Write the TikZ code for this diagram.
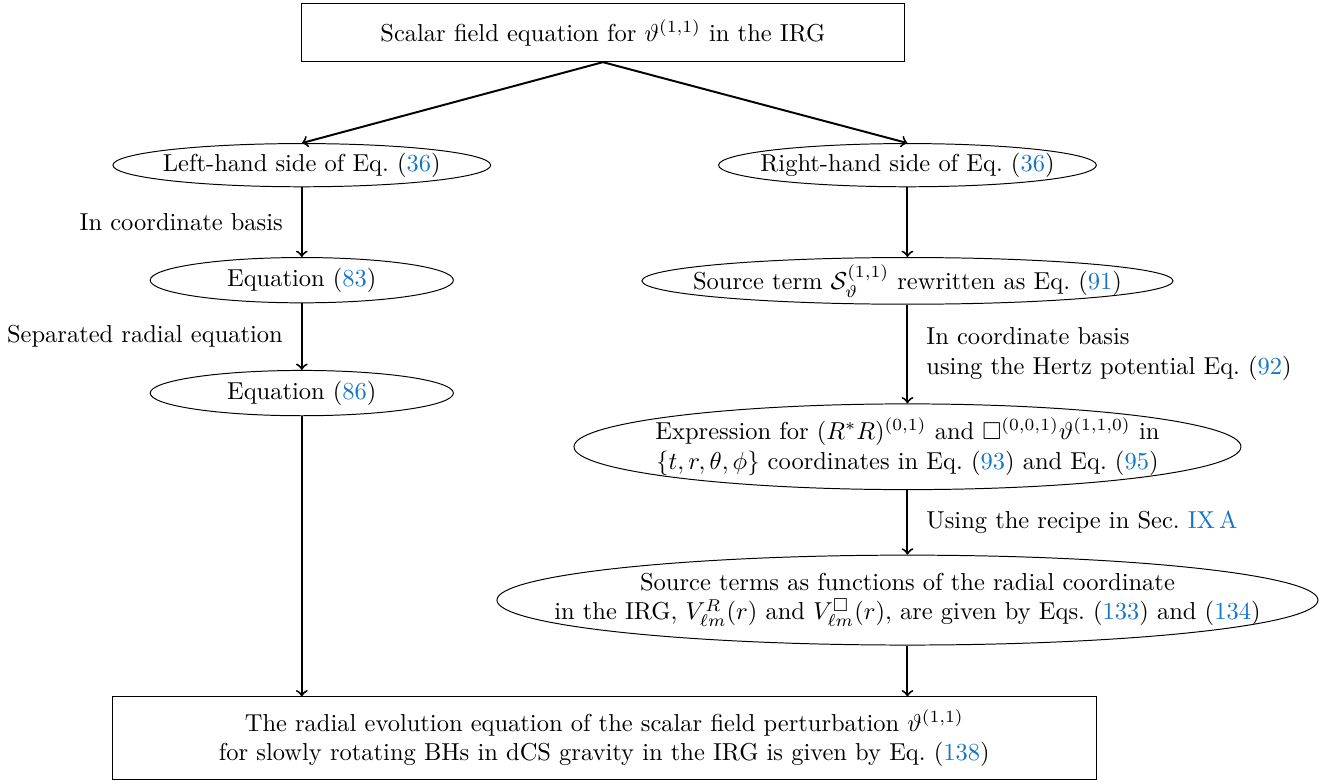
\documentclass[tikz,border=0pt]{standalone}
\usepackage{amsmath}
\usepackage{amssymb}
\usepackage{tikz}
\usetikzlibrary{arrows, calc, shapes.geometric}
\definecolor{linkblue}{RGB}{20,118,200}
\newcommand{\eqlink}[1]{(\textcolor{linkblue}{#1})}
\tikzset{flow box/.style={draw, rectangle, align=center, inner sep=2pt}}
\tikzset{flow oval/.style={draw, ellipse, align=center, inner xsep=-28pt, inner ysep=0pt}}
\tikzset{flow arrow/.style={->, thick}}

\begin{document}
\begin{tikzpicture}[auto]
                    \useasboundingbox (0,0) rectangle (19.24,-11.24);
                    %\draw[help lines] (0,0) grid (19,-11);

                    \node[flow box, minimum width=8.65cm, minimum height=0.83cm] at (8.65,-0.47) (field){Scalar field equation for $\vartheta^{(1,1)}$ in the IRG};

                    \node[flow oval, minimum width=5.42cm, minimum height=0.62cm] at (4.33,-2.37) (lhs){Left-hand side of Eq.~\eqlink{36}};
                    \node[flow oval, minimum width=5.42cm, minimum height=0.62cm] at (13.02,-2.37) (rhs){Right-hand side of Eq.~\eqlink{36}};

                    \node[flow oval, minimum width=4.35cm, minimum height=0.65cm] at (4.33,-4.02) (eqcoord){Equation~\eqlink{83}};
                    \node[flow oval, minimum width=4.35cm, minimum height=0.65cm] at (4.33,-5.64) (eqradial){Equation~\eqlink{86}};

                    \node[flow oval, minimum width=7.62cm, minimum height=0.67cm] at (13.02,-4.03) (source){Source term $\mathcal{S}_{\vartheta}^{(1,1)}$ rewritten as Eq.~\eqlink{91}};
                    \node[flow oval, minimum width=9.57cm, minimum height=1.23cm] at (13.02,-6.41) (express){Expression for $(R^{*}R)^{(0,1)}$ and $\Box^{(0,0,1)}\vartheta^{(1,1,0)}$ in\\$\{t,r,\theta,\phi\}$ coordinates in Eq.~\eqlink{93} and Eq.~\eqlink{95}};
                    \node[flow oval, minimum width=11.78cm, minimum height=1.29cm] at (13.02,-8.61) (radial){Source terms as functions of the radial coordinate\\in the IRG, $V^{R}_{\ell m}(r)$ and $V^{\Box}_{\ell m}(r)$, are given by Eqs.~\eqlink{133} and \eqlink{134}};

                    \node[flow box, minimum width=14.11cm, minimum height=1.18cm] at (8.67,-10.59) (final){The radial evolution equation of the scalar field perturbation $\vartheta^{(1,1)}$\\for slowly rotating BHs in dCS gravity in the IRG is given by Eq.~\eqlink{138}};

                    \draw[flow arrow] (field.south) -- (lhs.north);
                    \draw[flow arrow] (field.south) -- (rhs.north);

                    \draw[flow arrow] (lhs) -- node[midway, left=4pt] {In coordinate basis} (eqcoord);
                    \draw[flow arrow] (eqcoord) -- node[midway, left=4pt] {Separated radial equation} (eqradial);
                    \draw[flow arrow] (eqradial) -- (eqradial |- final.north);

                    \draw[flow arrow] (rhs) -- (source);
                    \draw[flow arrow] (source) -- node[midway, right=4pt, align=left] {In coordinate basis\\using the Hertz potential Eq.~\eqlink{92}} (express);
                    \draw[flow arrow] (express) -- node[midway, right=4pt] {Using the recipe in Sec.~\textcolor{linkblue}{IX\,A}} (radial);
                    \draw[flow arrow] (radial) -- (radial |- final.north);

                \end{tikzpicture}
\end{document}
